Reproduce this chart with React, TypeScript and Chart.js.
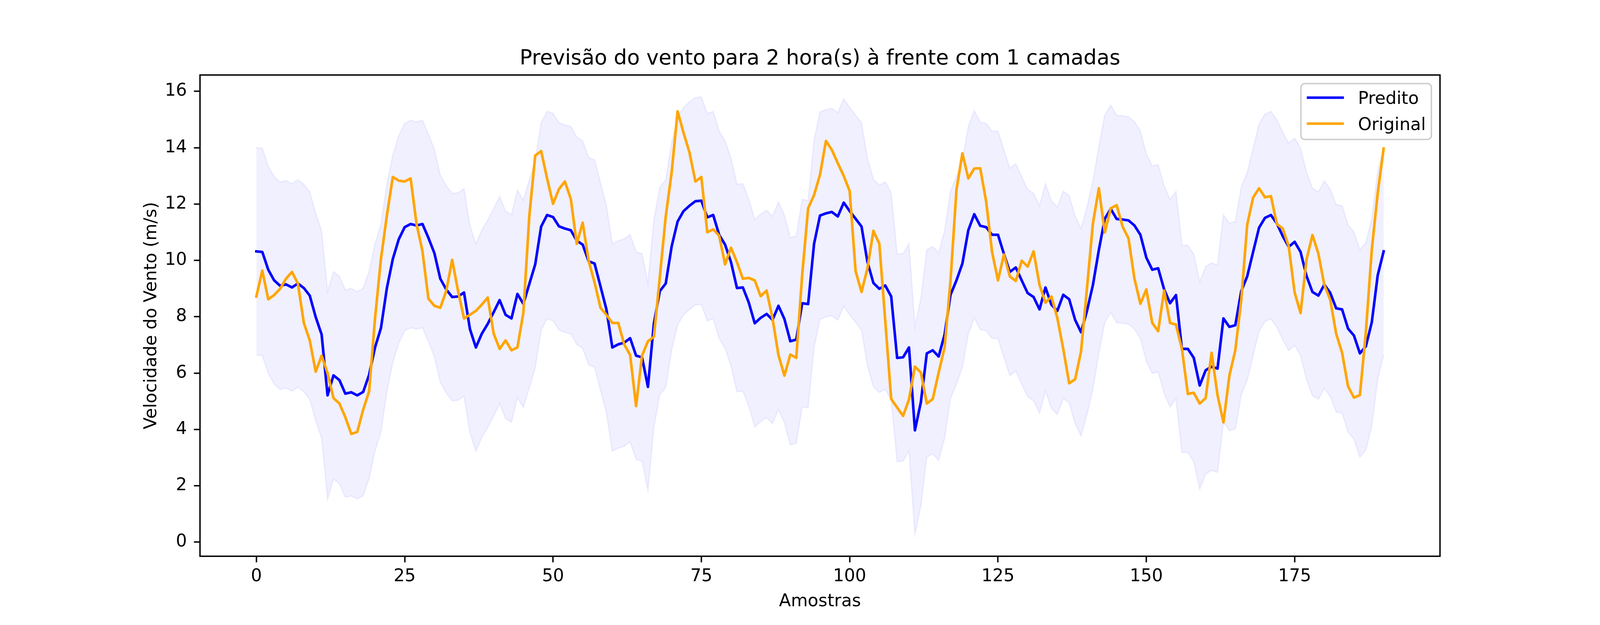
import { useEffect, useRef } from "react";
import { Chart, ChartConfiguration, Plugin, registerables } from "chart.js";

Chart.register(...registerables);

// valores (amostras 0..190)
const predito = [
  10.32, 10.3, 9.67, 9.29, 9.1, 9.15, 9.04, 9.18, 9.02, 8.75,
  7.99, 7.37, 5.21, 5.92, 5.75, 5.27, 5.32, 5.21, 5.33, 5.94,
  6.91, 7.6, 9.02, 10.05, 10.75, 11.18, 11.29, 11.24, 11.29, 10.8,
  10.26, 9.35, 8.97, 8.7, 8.72, 8.86, 7.56, 6.91, 7.4, 7.75,
  8.16, 8.59, 8.07, 7.94, 8.81, 8.46, 9.16, 9.86, 11.2, 11.61,
  11.54, 11.21, 11.13, 11.07, 10.7, 10.56, 9.97, 9.89, 9.08, 8.26,
  6.91, 7.02, 7.08, 7.24, 6.62, 6.56, 5.51, 7.76, 8.91, 9.18,
  10.5, 11.38, 11.75, 11.94, 12.1, 12.12, 11.53, 11.61, 10.91, 10.56,
  9.94, 9.02, 9.04, 8.5, 7.77, 7.96, 8.1, 7.89, 8.39, 7.92,
  7.13, 7.19, 8.48, 8.45, 10.59, 11.59, 11.67, 11.72, 11.56, 12.05,
  11.75, 11.48, 11.2, 9.94, 9.2, 8.99, 9.11, 8.72, 6.54, 6.56,
  6.91, 3.97, 4.97, 6.7, 6.81, 6.59, 7.37, 8.78, 9.29, 9.89,
  11.07, 11.64, 11.23, 11.18, 10.91, 10.91, 10.23, 9.59, 9.75, 9.29,
  8.84, 8.7, 8.26, 9.04, 8.43, 8.21, 8.78, 8.62, 7.89, 7.45,
  8.21, 9.13, 10.37, 11.48, 11.83, 11.47, 11.45, 11.42, 11.24, 10.91,
  10.1, 9.67, 9.72, 8.97, 8.48, 8.77, 6.86, 6.86, 6.54, 5.56,
  6.1, 6.23, 6.16, 7.94, 7.64, 7.7, 8.91, 9.43, 10.3, 11.16,
  11.51, 11.61, 11.31, 10.86, 10.48, 10.66, 10.3, 9.45, 8.88, 8.75,
  9.14, 8.85, 8.3, 8.26, 7.58, 7.33, 6.7, 6.95, 7.8, 9.47,
  10.32,
];

const original = [
  8.72, 9.64, 8.62, 8.77, 8.99, 9.35, 9.59, 9.18, 7.78, 7.16,
  6.05, 6.62, 6.0, 5.11, 4.92, 4.43, 3.84, 3.91, 4.7, 5.35,
  7.94, 10.05, 11.6, 12.96, 12.83, 12.8, 12.91, 11.29, 10.32, 8.64,
  8.39, 8.32, 8.91, 10.02, 8.91, 7.94, 8.07, 8.21, 8.43, 8.68,
  7.4, 6.86, 7.16, 6.81, 6.91, 8.14, 11.56, 13.72, 13.88, 12.91,
  12.01, 12.53, 12.8, 12.18, 10.59, 11.34, 9.99, 9.22, 8.32, 8.07,
  7.78, 7.78, 7.02, 6.64, 4.83, 6.62, 7.13, 7.29, 9.4, 11.56,
  13.13, 15.29, 14.53, 13.83, 12.8, 12.96, 11.0, 11.1, 10.88, 9.86,
  10.45, 9.94, 9.35, 9.38, 9.29, 8.73, 8.93, 7.94, 6.64, 5.91,
  6.66, 6.54, 9.5, 11.85, 12.32, 13.04, 14.24, 13.92, 13.45, 13.0,
  12.46, 9.62, 8.88, 9.72, 11.05, 10.59, 7.85, 5.08, 4.78, 4.48,
  5.06, 6.23, 6.02, 4.92, 5.08, 6.02, 6.91, 9.29, 12.5, 13.8,
  12.91, 13.26, 13.27, 12.1, 10.3, 9.29, 10.21, 9.43, 9.27, 9.99,
  9.78, 10.32, 9.13, 8.5, 8.72, 7.96, 6.86, 5.64, 5.78, 6.77,
  9.02, 11.31, 12.56, 10.99, 11.85, 11.96, 11.2, 10.78, 9.35, 8.46,
  8.97, 7.78, 7.49, 8.93, 7.78, 7.72, 6.86, 5.26, 5.3, 4.92,
  5.11, 6.72, 5.22, 4.25, 5.91, 6.81, 8.59, 11.26, 12.23, 12.56,
  12.24, 12.28, 11.29, 11.13, 10.5, 8.86, 8.13, 10.03, 10.9, 10.24,
  9.13, 8.6, 7.4, 6.72, 5.53, 5.13, 5.22, 7.45, 10.37, 12.39,
  13.97,
];

// meia largura da faixa de incerteza em torno do predito (m/s)
const margem = 3.68;

const ticksX = [0, 25, 50, 75, 100, 125, 150, 175];
const ticksY = [0, 2, 4, 6, 8, 10, 12, 14, 16];

const titulo = "Previsão do vento para 2 hora(s) à frente com 1 camadas";
const rotuloX = "Amostras";
const rotuloY = "Velocidade do Vento (m/s)";
const legendas = [
  { nome: "Predito", cor: "#0000FF" },
  { nome: "Original", cor: "#FFA500" },
];

const FONTE = '"DejaVu Sans", sans-serif';
const FS = 44.4; // 10pt a 320 dpi
const LW = 6.67; // 1.5pt

const moldura: Plugin<"line"> = {
  id: "moldura",
  afterDraw(chart) {
    const { ctx, chartArea: a } = chart;
    const cx = (a.left + a.right) / 2;
    const cy = (a.top + a.bottom) / 2;
    ctx.save();

    // eixos (quatro lados)
    ctx.strokeStyle = "#000";
    ctx.lineWidth = 3.6;
    ctx.strokeRect(a.left, a.top, a.right - a.left, a.bottom - a.top);

    ctx.fillStyle = "#000";
    ctx.textAlign = "center";
    ctx.textBaseline = "alphabetic";

    ctx.font = `53.3px ${FONTE}`;
    ctx.fillText(titulo, cx, a.top - 27);

    ctx.font = `${FS}px ${FONTE}`;
    ctx.fillText(rotuloX, cx, a.bottom + 128);

    ctx.save();
    ctx.translate(a.left - 112, cy);
    ctx.rotate(-Math.PI / 2);
    ctx.fillText(rotuloY, 0, 0);
    ctx.restore();

    // legenda, canto superior direito
    const bw = 334;
    const bh = 143;
    const bx = a.right - 22 - bw;
    const by = a.top + 22;
    ctx.beginPath();
    ctx.roundRect(bx, by, bw, bh, 10);
    ctx.fillStyle = "rgba(255,255,255,0.8)";
    ctx.fill();
    ctx.strokeStyle = "#cccccc";
    ctx.lineWidth = 3.6;
    ctx.stroke();

    ctx.textAlign = "left";
    legendas.forEach((l, k) => {
      const yl = by + 36 + k * 66.5;
      ctx.beginPath();
      ctx.moveTo(bx + 15, yl);
      ctx.lineTo(bx + 110, yl);
      ctx.strokeStyle = l.cor;
      ctx.lineWidth = LW;
      ctx.lineCap = "butt";
      ctx.stroke();
      ctx.fillStyle = "#000";
      ctx.fillText(l.nome, bx + 146, yl + 16);
    });

    ctx.restore();
  },
};

export default function App() {
  const canvasRef = useRef<HTMLCanvasElement | null>(null);
  const chartRef = useRef<Chart<"line"> | null>(null);

  // ocupa a janela inteira (o navegador limita a largura)
  const W = typeof window !== "undefined" ? Math.min(6400, window.innerWidth) : 6400;
  const H = typeof window !== "undefined" ? Math.min(1600, window.innerHeight) : 1600;

  useEffect(() => {
    if (!canvasRef.current) return;
    const pontos = (vals: number[]) => vals.map((y, i) => ({ x: i, y }));

    const linha = {
      pointRadius: 0,
      tension: 0,
      borderWidth: LW,
      borderJoinStyle: "round" as const,
      borderCapStyle: "square" as const,
      fill: false,
    };

    const eixo = {
      border: { display: false },
      grid: {
        drawOnChartArea: false,
        drawTicks: true,
        tickLength: 15.6,
        tickWidth: 3.6,
        tickColor: "#000",
      },
    };

    const config: ChartConfiguration<"line"> = {
      type: "line",
      data: {
        datasets: [
          { ...linha, label: "Original", data: pontos(original), borderColor: "#FFA500", order: 1 },
          { ...linha, label: "Predito", data: pontos(predito), borderColor: "#0000FF", order: 2 },
          {
            label: "superior",
            data: pontos(predito.map((v) => v + margem)),
            pointRadius: 0,
            tension: 0,
            borderWidth: 3.6,
            borderColor: "rgba(0,0,255,0.06)",
            backgroundColor: "rgba(0,0,255,0.06)",
            fill: "+1",
            order: 3,
          },
          {
            label: "inferior",
            data: pontos(predito.map((v) => v - margem)),
            pointRadius: 0,
            tension: 0,
            borderWidth: 3.6,
            borderColor: "rgba(0,0,255,0.06)",
            fill: false,
            order: 3,
          },
        ],
      },
      options: {
        animation: false,
        responsive: false,
        devicePixelRatio: 1,
        layout: { padding: { left: 0, top: 0.12 * H, right: 0.1 * W, bottom: 0 } },
        plugins: {
          legend: { display: false },
          title: { display: false },
          tooltip: { enabled: false },
        },
        scales: {
          x: {
            ...eixo,
            type: "linear",
            min: -9.5,
            max: 199.5,
            afterBuildTicks: (s) => {
              s.ticks = ticksX.map((value) => ({ value }));
            },
            afterFit: (s) => {
              s.height = 0.11 * H;
            },
            ticks: {
              color: "#000",
              font: { family: FONTE, size: FS },
              padding: 10,
              maxRotation: 0,
              autoSkip: false,
            },
          },
          y: {
            ...eixo,
            type: "linear",
            min: -0.5,
            max: 16.58,
            afterBuildTicks: (s) => {
              s.ticks = ticksY.map((value) => ({ value }));
            },
            afterFit: (s) => {
              s.width = 0.125 * W;
            },
            ticks: {
              color: "#000",
              font: { family: FONTE, size: FS },
              padding: 18,
              autoSkip: false,
            },
          },
        },
      },
      plugins: [moldura],
    };

    if (chartRef.current) chartRef.current.destroy();
    chartRef.current = new Chart(canvasRef.current, config);

    return () => {
      if (chartRef.current) {
        chartRef.current.destroy();
        chartRef.current = null;
      }
    };
  }, [W, H]);

  return (
    <div style={{ position: "fixed", left: 0, top: 0, width: W, height: H, background: "#fff" }}>
      <canvas ref={canvasRef} width={W} height={H} style={{ width: W, height: H, display: "block" }} />
    </div>
  );
}
